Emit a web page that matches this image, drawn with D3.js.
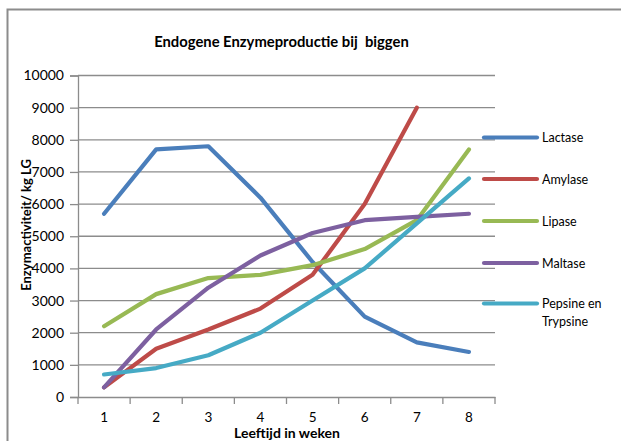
<!DOCTYPE html>
<html><head><meta charset="utf-8">
<script src="https://cdn.jsdelivr.net/npm/d3@7"></script>
<style>body{margin:0;background:#fff}svg{display:block}text{font-family:Lato,"Open Sans",sans-serif}</style>
</head><body>
<svg id="c" width="621" height="441"></svg>
<script>
const weeks = [1,2,3,4,5,6,7,8];
const yTicks = [0,1000,2000,3000,4000,5000,6000,7000,8000,9000,10000];
const seriesNames = ["Lactase","Amylase","Lipase","Maltase","Pepsine en Trypsine"];
const lactase = [5700,7700,7800,6200,4200,2500,1700,1400];
const amylase = [300,1500,2100,2750,3800,6000,9000,null];
const lipase  = [2200,3200,3700,3800,4100,4600,5500,7700];
const maltase = [300,2100,3400,4400,5100,5500,5600,5700];
const pepsine = [700,900,1300,2000,3000,4000,5400,6800];
const colors = ["#4A7EBB","#BE4B48","#98B954","#7D60A0","#46AAC5"];
const seriesValues = [lactase,amylase,lipase,maltase,pepsine];

const svg = d3.select("#c");
svg.append("rect").attr("x",7.5).attr("y",9.5).attr("width",700).attr("height",500)
  .attr("fill","none").attr("stroke","#8c8c8c").attr("stroke-width",2);

const L=78, R=495, T=75.5, B=397;
const x = d3.scaleBand().domain(weeks).range([L,R]);
const y = d3.scaleLinear().domain([0,10000]).range([B,T]);

svg.append("g").selectAll("line").data(yTicks.filter(d=>d>0)).join("line")
  .attr("x1",L).attr("x2",R).attr("y1",d=>y(d)).attr("y2",d=>y(d))
  .attr("stroke","#8c8c8c").attr("stroke-width",1.3);

const ya = svg.append("g").attr("transform",`translate(${L},0)`)
  .call(d3.axisLeft(y).tickValues(yTicks).tickSize(8).tickPadding(6).tickFormat(d3.format("d")));
ya.select(".domain").attr("stroke","#8c8c8c").attr("stroke-width",1.3);
ya.selectAll(".tick line").attr("stroke","#8c8c8c").attr("stroke-width",1.3);
ya.selectAll("text").attr("font-size",14).attr("fill","#000").attr("font-family","Lato");

const xa = svg.append("g").attr("transform",`translate(0,${B})`)
  .call(d3.axisBottom(x).tickSize(0).tickPadding(15));
xa.select(".domain").attr("stroke","#8c8c8c").attr("stroke-width",1.3);
xa.selectAll("text").attr("font-size",13.5).attr("fill","#000").attr("font-family","Lato");
const bounds = weeks.map(w=>x(w)).concat([R]);
xa.append("g").selectAll("line").data(bounds).join("line")
  .attr("x1",d=>d).attr("x2",d=>d).attr("y1",0).attr("y2",7)
  .attr("stroke","#8c8c8c").attr("stroke-width",1.3);

const line = d3.line().defined(d=>d.v!=null)
  .x(d=>x(d.w)+x.bandwidth()/2).y(d=>y(d.v));
seriesValues.forEach((vals,i)=>{
  svg.append("path").datum(weeks.map((w,j)=>({w,v:vals[j]})))
    .attr("d",line).attr("fill","none").attr("stroke",colors[i])
    .attr("stroke-width",4.2).attr("stroke-linecap","round").attr("stroke-linejoin","round");
});

const legY = [137.5,179,221,263,303.5];
seriesNames.forEach((n,i)=>{
  svg.append("line").attr("x1",484).attr("x2",537).attr("y1",legY[i]).attr("y2",legY[i])
    .attr("stroke",colors[i]).attr("stroke-width",4.2).attr("stroke-linecap","round");
  const t = svg.append("text").attr("x",542).attr("y",legY[i]+4.5).attr("font-size",12.5).attr("fill","#000");
  if(n==="Pepsine en Trypsine"){
    t.append("tspan").attr("x",542).text("Pepsine en");
    t.append("tspan").attr("x",542).attr("dy",17.5).text("Trypsine");
  } else t.text(n);
});

svg.append("text").attr("x",281.5).attr("y",47).attr("text-anchor","middle")
  .attr("font-size",14.8).attr("font-weight","bold").attr("fill","#000")
  .style("white-space","pre").text("Endogene Enzymeproductie bij  biggen");
svg.append("text").attr("x",287).attr("y",438).attr("text-anchor","middle")
  .attr("font-size",14).attr("font-weight","bold").attr("fill","#000").text("Leeftijd in weken");
svg.append("text").attr("transform","translate(31,225) rotate(-90)").attr("text-anchor","middle")
  .attr("font-size",13).attr("font-weight","bold").attr("fill","#000").text("Enzymactiviteit/ kg LG");
</script>
</body></html>
